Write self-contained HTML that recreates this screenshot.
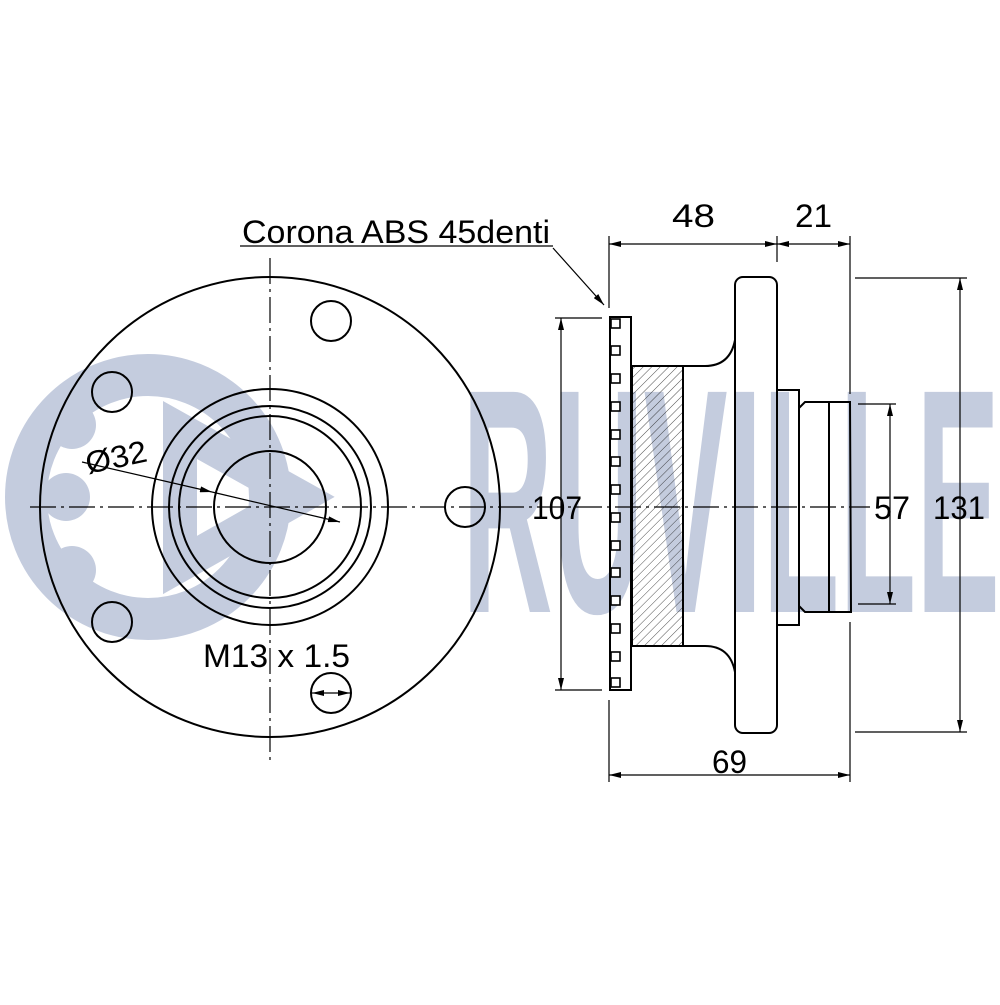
<!DOCTYPE html>
<html><head><meta charset="utf-8"><style>html,body{margin:0;padding:0;background:#fff}</style></head>
<body>
<svg width="1000" height="1000" viewBox="0 0 1000 1000" xmlns="http://www.w3.org/2000/svg" font-family="Liberation Sans, Arial, sans-serif">
<defs>
<pattern id="h" width="6" height="6" patternUnits="userSpaceOnUse" patternTransform="rotate(45)"><line x1="0" y1="0" x2="0" y2="6" stroke="#222" stroke-width="0.8"/></pattern>
<marker id="a" markerWidth="12" markerHeight="6" refX="12" refY="3" orient="auto" markerUnits="userSpaceOnUse"><path d="M0,0 L12,3 L0,6 z" fill="#000"/></marker>
<marker id="b" markerWidth="12" markerHeight="6" refX="0" refY="3" orient="auto" markerUnits="userSpaceOnUse"><path d="M12,0 L0,3 L12,6 z" fill="#000"/></marker>
</defs>
<g fill="#c4ccde">
<circle cx="148" cy="497" r="122" fill="none" stroke="#c4ccde" stroke-width="42"/>
<circle cx="72" cy="425" r="24"/><circle cx="66" cy="497" r="24"/><circle cx="72" cy="570" r="24"/>
<path d="M180,430 L300,497 L180,565 z" fill="none" stroke="#c4ccde" stroke-width="34"/>
<text x="462" y="612" font-size="320" font-weight="bold" textLength="538" lengthAdjust="spacingAndGlyphs">RUVILLE</text>
</g>
<g fill="none" stroke="#000" stroke-width="2">
<circle cx="270" cy="507" r="230"/>
<circle cx="270" cy="507" r="118"/>
<circle cx="270" cy="507" r="101"/>
<circle cx="270" cy="507" r="91"/>
<circle cx="270" cy="507" r="56"/>
<circle cx="465" cy="507" r="20"/>
<circle cx="331" cy="321" r="20"/>
<circle cx="112" cy="392" r="20"/>
<circle cx="112" cy="622" r="20"/>
<circle cx="331" cy="693" r="20"/>
</g>
<g stroke="#000" stroke-width="1.2" stroke-dasharray="26,5,3,5" fill="none">
<line x1="30" y1="507" x2="870" y2="507"/>
<line x1="270" y1="258" x2="270" y2="765"/>
</g>
<g stroke="#000" stroke-width="1.2" fill="none">
<line x1="82" y1="462" x2="212" y2="492" marker-end="url(#a)"/>
<line x1="212" y1="492" x2="340" y2="522" marker-end="url(#a)"/>
<line x1="312" y1="693" x2="350" y2="693" marker-end="url(#a)" marker-start="url(#b)"/>
</g>
<text x="88" y="474" font-size="31" textLength="62" lengthAdjust="spacingAndGlyphs" transform="rotate(-12 88 474)">Ø32</text>
<text x="203" y="667" font-size="32" textLength="147" lengthAdjust="spacingAndGlyphs">M13 x 1.5</text>
<g fill="none" stroke="#000" stroke-width="2">
<rect x="610" y="317" width="21" height="373"/>
<rect x="632" y="366" width="51" height="280" fill="url(#h)"/>
<path d="M683,366 L705,366 Q730,366 735,340"/>
<path d="M683,646 L705,646 Q730,646 735,672"/>
<rect x="735" y="277" width="42" height="456" rx="8"/>
<path d="M777,390 L799,390 L799,625 L777,625"/>
<path d="M799,408 L805,402 L850,402 L851,612 L805,612 L799,606"/>
<line x1="829" y1="402" x2="829" y2="612"/>
</g>
<g fill="#fff" stroke="#000" stroke-width="1.6">
<rect x="611" y="319" width="9" height="9"/><rect x="611" y="346" width="9" height="9"/><rect x="611" y="374" width="9" height="9"/><rect x="611" y="402" width="9" height="9"/><rect x="611" y="430" width="9" height="9"/><rect x="611" y="457" width="9" height="9"/><rect x="611" y="485" width="9" height="9"/><rect x="611" y="513" width="9" height="9"/><rect x="611" y="541" width="9" height="9"/><rect x="611" y="568" width="9" height="9"/><rect x="611" y="596" width="9" height="9"/><rect x="611" y="624" width="9" height="9"/><rect x="611" y="652" width="9" height="9"/><rect x="611" y="678" width="9" height="9"/>
</g>
<g stroke="#000" stroke-width="1.2" fill="none">
<line x1="609" y1="236" x2="609" y2="308"/>
<line x1="609" y1="700" x2="609" y2="782"/>
<line x1="777" y1="236" x2="777" y2="262"/>
<line x1="850" y1="236" x2="850" y2="394"/>
<line x1="850" y1="622" x2="850" y2="782"/>
<line x1="609" y1="244" x2="777" y2="244" marker-start="url(#b)" marker-end="url(#a)"/>
<line x1="777" y1="244" x2="850" y2="244" marker-start="url(#b)" marker-end="url(#a)"/>
<line x1="609" y1="775" x2="850" y2="775" marker-start="url(#b)" marker-end="url(#a)"/>
<line x1="555" y1="318" x2="602" y2="318"/>
<line x1="555" y1="690" x2="602" y2="690"/>
<line x1="561" y1="318" x2="561" y2="690" marker-start="url(#b)" marker-end="url(#a)"/>
<line x1="858" y1="404" x2="896" y2="404"/>
<line x1="858" y1="604" x2="896" y2="604"/>
<line x1="890" y1="404" x2="890" y2="604" marker-start="url(#b)" marker-end="url(#a)"/>
<line x1="855" y1="278" x2="967" y2="278"/>
<line x1="855" y1="732" x2="967" y2="732"/>
<line x1="960" y1="278" x2="960" y2="732" marker-start="url(#b)" marker-end="url(#a)"/>
<line x1="553" y1="248" x2="604" y2="305" marker-end="url(#a)"/>
<line x1="240" y1="246" x2="553" y2="246"/>
</g>
<g font-size="32" fill="#000">
<text x="242" y="243" textLength="308" lengthAdjust="spacingAndGlyphs">Corona ABS 45denti</text>
<text x="672" y="227" textLength="43" lengthAdjust="spacingAndGlyphs">48</text>
<text x="795" y="227" textLength="37" lengthAdjust="spacingAndGlyphs">21</text>
<text x="532" y="519" textLength="50" lengthAdjust="spacingAndGlyphs">107</text>
<text x="874" y="519" textLength="36" lengthAdjust="spacingAndGlyphs">57</text>
<text x="933" y="519" textLength="52" lengthAdjust="spacingAndGlyphs">131</text>
<text x="712" y="773" textLength="35" lengthAdjust="spacingAndGlyphs">69</text>
</g>
</svg>
</body></html>
